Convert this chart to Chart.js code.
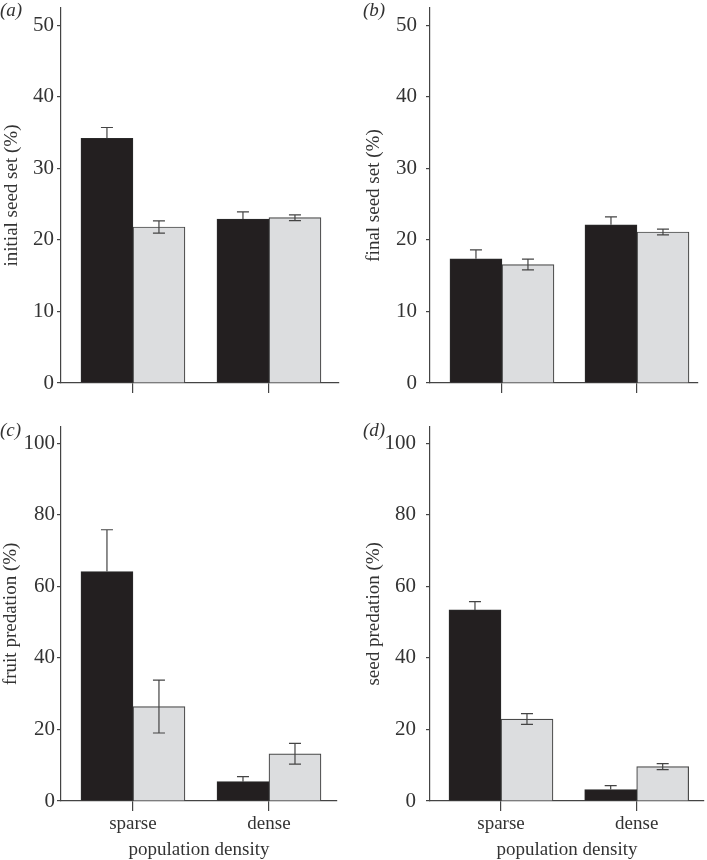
<!DOCTYPE html>
<html>
<head>
<meta charset="utf-8">
<script src="https://cdn.jsdelivr.net/npm/chart.js@4.4.1/dist/chart.umd.min.js"></script>
<style>
  html, body { margin: 0; padding: 0; background: #fff; }
  body { width: 707px; height: 860px; position: relative; overflow: hidden; }
  canvas { position: absolute; }
  .tag { position: absolute; font-family: "Liberation Serif", serif; font-style: italic;
         font-size: 19px; line-height: 19px; color: #333; }
</style>
</head>
<body>
<canvas id="panelA" width="353" height="420" style="left:0;top:0"></canvas>
<canvas id="panelB" width="347" height="420" style="left:360px;top:0"></canvas>
<canvas id="panelC" width="353" height="440" style="left:0;top:420px"></canvas>
<canvas id="panelD" width="347" height="440" style="left:360px;top:420px"></canvas>
<div class="tag" style="left:0;top:0">(a)</div>
<div class="tag" style="left:363px;top:0">(b)</div>
<div class="tag" style="left:0;top:420px">(c)</div>
<div class="tag" style="left:363px;top:420px">(d)</div>
<script>
// categories (x axis)
const densities = ['sparse', 'dense'];

// (a) initial seed set (%)
const initialSeedDark = [34.2, 22.9];
const initialSeedDarkErr = [1.5, 1.0];
const initialSeedLight = [21.8, 23.1];
const initialSeedLightErr = [0.85, 0.4];

// (b) final seed set (%)
const finalSeedDark = [17.35, 22.1];
const finalSeedDarkErr = [1.25, 1.1];
const finalSeedLight = [16.55, 21.1];
const finalSeedLightErr = [0.75, 0.4];

// (c) fruit predation (%)
const fruitPredDark = [64.1, 5.4];
const fruitPredDarkErr = [11.7, 1.4];
const fruitPredLight = [26.4, 13.2];
const fruitPredLightErr = [7.4, 2.9];

// (d) seed predation (%)
const seedPredDark = [53.4, 3.2];
const seedPredDarkErr = [2.3, 1.1];
const seedPredLight = [22.9, 9.6];
const seedPredLightErr = [1.5, 0.85];

// y tick labels
const seedSetTicks = [0, 10, 20, 30, 40, 50];
const predationTicks = [0, 20, 40, 60, 80, 100];

const AXIS = '#444';
const TEXT = '#333';
Chart.defaults.font.family = '"Liberation Serif", "Times New Roman", serif';
Chart.defaults.color = TEXT;

// error bars drawn on top of the bars (lower half hidden inside the dark bars)
const errorBars = {
  id: 'errorBars',
  afterDatasetsDraw(chart) {
    const { ctx } = chart;
    const y = chart.scales.y;
    ctx.save();
    ctx.strokeStyle = AXIS;
    ctx.lineWidth = 1.2;
    chart.data.datasets.forEach((ds, di) => {
      const meta = chart.getDatasetMeta(di);
      meta.data.forEach((bar, i) => {
        const v = ds.data[i].y, e = ds.errors[i];
        const top = y.getPixelForValue(v + e);
        const bot = ds.showLower ? y.getPixelForValue(v - e) : y.getPixelForValue(v);
        const x = bar.x, cap = 6;
        ctx.beginPath();
        ctx.moveTo(x, bot); ctx.lineTo(x, top);
        ctx.moveTo(x - cap, top); ctx.lineTo(x + cap, top);
        if (ds.showLower) { ctx.moveTo(x - cap, bot); ctx.lineTo(x + cap, bot); }
        ctx.stroke();
      });
    });
    ctx.restore();
  }
};

function makePanel(id, cfg) {
  const toPoints = arr => arr.map((v, i) => ({ x: i, y: v }));
  new Chart(document.getElementById(id), {
    type: 'bar',
    data: {
      datasets: [{
        label: 'dark',
        data: toPoints(cfg.dark),
        errors: cfg.darkErr,
        showLower: false,
        backgroundColor: '#231f20',
        borderColor: '#2a2a2a',
        borderWidth: 1,
        barThickness: 52
      }, {
        label: 'light',
        data: toPoints(cfg.light),
        errors: cfg.lightErr,
        showLower: true,
        backgroundColor: '#dcdddf',
        borderColor: '#4a4a4a',
        borderWidth: 1.2,
        barThickness: 52
      }]
    },
    options: {
      responsive: false,
      animation: false,
      layout: { padding: { top: cfg.padTop, right: cfg.padRight, left: 0, bottom: 0 } },
      plugins: { legend: { display: false }, tooltip: { enabled: false } },
      scales: {
        x: {
          type: 'linear',
          min: cfg.xMin,
          max: cfg.xMax,
          offset: false,
          afterBuildTicks: s => { s.ticks = densities.map((_, i) => ({ value: i })); },
          afterFit: s => { s.height = cfg.xHeight; s.paddingLeft = 0; s.paddingRight = 0; },
          grid: { display: true, offset: false, drawOnChartArea: false, drawTicks: true, tickLength: 10, color: AXIS, lineWidth: 1.2 },
          border: { display: true, color: AXIS, width: 1.2 },
          ticks: {
            display: cfg.showX,
            padding: 2,
            font: { size: 19 },
            color: TEXT,
            callback: v => densities[v]
          },
          title: {
            display: cfg.showX,
            text: 'population density',
            font: { size: 19, lineHeight: 1 },
            color: TEXT,
            padding: { top: 0, bottom: 0 }
          }
        },
        y: {
          min: 0,
          max: cfg.yMax,
          afterBuildTicks: s => { s.ticks = cfg.yTicks.map(v => ({ value: v })); },
          afterFit: s => { s.width = cfg.yWidth; s.paddingTop = 0; s.paddingBottom = 0; },
          grid: { display: true, drawOnChartArea: false, drawTicks: true, tickLength: 4, color: AXIS, lineWidth: 1.2 },
          border: { display: true, color: AXIS, width: 1.2 },
          ticks: { padding: cfg.tickPad, font: { size: 21 }, color: TEXT },
          title: {
            display: true,
            text: cfg.yTitle,
            font: { size: 19, lineHeight: 1.2 },
            color: TEXT,
            padding: { top: cfg.titlePad, bottom: 0 }
          }
        }
      }
    },
    plugins: [errorBars]
  });
}

makePanel('panelA', {
  dark: initialSeedDark, darkErr: initialSeedDarkErr,
  light: initialSeedLight, lightErr: initialSeedLightErr,
  yTitle: 'initial seed set (%)', yTicks: seedSetTicks, yMax: 52.4,
  xMin: -0.529, xMax: 1.515, padTop: 8, padRight: 14, xHeight: 37,
  yWidth: 61, tickPad: 3, titlePad: 1, showX: false
});
makePanel('panelB', {
  dark: finalSeedDark, darkErr: finalSeedDarkErr,
  light: finalSeedLight, lightErr: finalSeedLightErr,
  yTitle: 'final seed set (%)', yTicks: seedSetTicks, yMax: 52.4,
  xMin: -0.533, xMax: 1.452, padTop: 8, padRight: 9, xHeight: 37,
  yWidth: 70, tickPad: 9, titlePad: 3, showX: false
});
makePanel('panelC', {
  dark: fruitPredDark, darkErr: fruitPredDarkErr,
  light: fruitPredLight, lightErr: fruitPredLightErr,
  yTitle: 'fruit predation (%)', yTicks: predationTicks, yMax: 104.6,
  xMin: -0.529, xMax: 1.5, padTop: 6.7, padRight: 16, xHeight: 59,
  yWidth: 61, tickPad: 2, titlePad: 0, showX: true
});
makePanel('panelD', {
  dark: seedPredDark, darkErr: seedPredDarkErr,
  light: seedPredLight, lightErr: seedPredLightErr,
  yTitle: 'seed predation (%)', yTicks: predationTicks, yMax: 104.6,
  xMin: -0.523, xMax: 1.496, padTop: 6.7, padRight: 3, xHeight: 59,
  yWidth: 70, tickPad: 10, titlePad: 3, showX: true
});
</script>
</body>
</html>
